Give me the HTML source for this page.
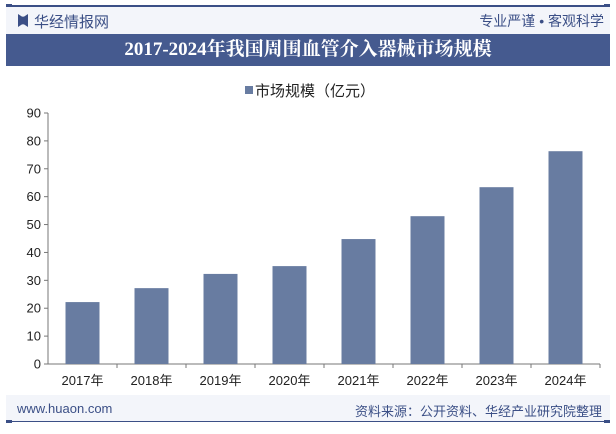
<!DOCTYPE html>
<html><head><meta charset="utf-8"><style>
body{margin:0;width:616px;height:434px;background:#fff;overflow:hidden;position:relative;font-family:"Liberation Sans","Noto Sans CJK SC",sans-serif}
.a{position:absolute}
</style></head><body>
<div class="a" style="left:6px;top:5px;width:604px;height:2px;background:#3b4f86"></div>
<div class="a" style="left:6px;top:4px;width:6px;height:4px;background:#3b4f86"></div>
<div class="a" style="left:604px;top:4px;width:6px;height:4px;background:#3b4f86"></div>
<div class="a" style="left:6px;top:7px;width:604px;height:27px;background:#f3f5fa"></div>
<div class="a" style="left:18px;top:14px;width:10px;height:13px;background:#3b4f86;clip-path:polygon(0 0,40% 20%,60% 20%,100% 0,100% 100%,60% 80%,40% 80%,0 100%)"></div>
<div class="a" style="left:34px;top:11px;font-size:15px;color:#3b4f86">华经情报网</div>
<div class="a" style="right:12px;top:11px;font-size:14px;color:#3b4f86">专业严谨 • 客观科学</div>
<div class="a" style="left:6px;top:34px;width:604px;height:32px;background:#455a8f;color:#fff;font-family:'Liberation Serif','Noto Serif CJK SC',serif;font-weight:bold;font-size:19px;line-height:32px;text-align:center">2017-2024年我国周围血管介入器械市场规模</div>
<div class="a" style="left:245px;top:80px;font-size:15px;color:#222"><span style="display:inline-block;width:8px;height:8px;background:#687ca1;margin-right:2px;vertical-align:2px"></span>市场规模（亿元）</div>
<svg class="a" style="left:0;top:0" width="616" height="434">
<g id="g"></g></svg>
<div class="a" style="left:6px;top:395px;width:604px;height:26px;background:#f3f5fa"></div>
<div class="a" style="left:6px;top:421px;width:604px;height:1px;background:#3b4f86"></div>
<div class="a" style="left:604px;top:420px;width:6px;height:3px;background:#3b4f86"></div>
<div class="a" style="left:6px;top:420px;width:6px;height:3px;background:#3b4f86"></div>
<div class="a" style="left:17px;top:401px;font-size:13px;color:#3b4f86">www.huaon.com</div>
<div class="a" style="right:14px;top:401px;font-size:13px;color:#3b4f86">资料来源：公开资料、华经产业研究院整理</div>
<script>
const categories=["2017年","2018年","2019年","2020年","2021年","2022年","2023年","2024年"];
const values=[22.2,27.2,32.3,35.1,44.8,53,63.4,76.3];
const yTicks=[0,10,20,30,40,50,60,70,80,90];
const ns="http://www.w3.org/2000/svg",g=document.getElementById("g");
const x0=48,x1=600,y0=364,y1=113,ymax=90;
const y=v=>y0-(y0-y1)*v/ymax, bw=(x1-x0)/categories.length;
function mk(t,a){const e=document.createElementNS(ns,t);for(const k in a)e.setAttribute(k,a[k]);g.appendChild(e);return e;}
let e=mk("line",{x1:x0,y1:y1,x2:x0,y2:y0,stroke:"#777"});


e=mk("line",{x1:x0,y1:y0,x2:x1,y2:y0,stroke:"#777"});


yTicks.forEach(t=>{
 const l=mk("line",{x1:x0-4,y1:y(t),x2:x0,y2:y(t),stroke:"#777"});
 
 
 const tx=mk("text",{x:x0-7,y:y(t)+4.5,"text-anchor":"end","font-size":13,fill:"#222"});
 
 
 tx.textContent=t;
});
categories.forEach((c,i)=>{
 const tk=mk("line",{x1:x0+bw*(i+1),y1:y0,x2:x0+bw*(i+1),y2:y0+4,stroke:"#777"});
 
 
 const cx=x0+bw*(i+0.5);
 const r=mk("rect",{x:cx-17,y:y(values[i]),width:34,height:y0-y(values[i]),fill:"#687ca1"});
 
 
 const tx=mk("text",{x:cx,y:y0+21,"text-anchor":"middle","font-size":13,fill:"#222"});
 
 
 tx.textContent=c;
});
</script>
</body></html>
